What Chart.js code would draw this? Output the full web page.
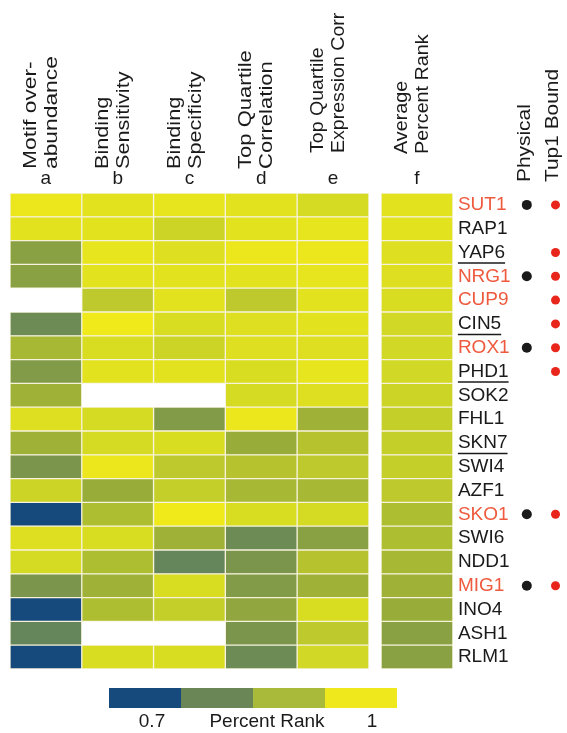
<!DOCTYPE html>
<html>
<head>
<meta charset="utf-8">
<script src="https://cdn.jsdelivr.net/npm/chart.js@4.4.0/dist/chart.umd.min.js"></script>
<style>
  html, body { margin: 0; padding: 0; background: #fff; }
  #wrap { width: 567px; height: 733px; }
</style>
</head>
<body>
<div id="wrap"><canvas id="heatChart"></canvas></div>
<script>
// rows (top to bottom)
const genes = ['SUT1', 'RAP1', 'YAP6', 'NRG1', 'CUP9', 'CIN5', 'ROX1', 'PHD1', 'SOK2', 'FHL1',
               'SKN7', 'SWI4', 'AZF1', 'SKO1', 'SWI6', 'NDD1', 'MIG1', 'INO4', 'ASH1', 'RLM1'];

// percent rank per column (null = no data)
const colA = [0.99, 0.97, 0.83, 0.83, null, 0.79, 0.87, 0.82, 0.86, 0.96, 0.86, 0.81, 0.92, 0.70, 0.96, 0.94, 0.81, 0.70, 0.78, 0.70];
const colB = [0.97, 0.97, 0.98, 0.97, 0.90, 1.00, 0.95, 0.97, null, 0.94, 0.94, 0.99, 0.85, 0.88, 0.95, 0.88, 0.86, 0.88, null, 0.95];
const colC = [0.98, 0.92, 0.96, 0.97, 0.97, 0.95, 0.92, 0.97, null, 0.82, 0.95, 0.90, 0.91, 1.00, 0.86, 0.78, 0.95, 0.91, null, 0.95];
const colD = [0.97, 0.97, 0.99, 0.97, 0.90, 0.96, 0.96, 0.95, 0.94, 0.99, 0.85, 0.89, 0.87, 0.95, 0.79, 0.81, 0.82, 0.84, 0.81, 0.79];
const colE = [0.94, 0.98, 0.99, 0.98, 0.97, 0.97, 0.96, 0.98, 0.96, 0.86, 0.89, 0.90, 0.87, 0.94, 0.83, 0.89, 0.86, 0.95, 0.90, 0.93];
const colF = [0.97, 0.97, 0.96, 0.96, 0.95, 0.93, 0.93, 0.93, 0.92, 0.91, 0.91, 0.91, 0.90, 0.88, 0.88, 0.87, 0.86, 0.85, 0.83, 0.83];

const columnLetters = ['a', 'b', 'c', 'd', 'e', 'f'];
const columnHeaders = [
  ['Motif over-', 'abundance'],
  ['Binding', 'Sensitivity'],
  ['Binding', 'Specificity'],
  ['Top Quartile', 'Correlation'],
  ['Top Quartile', 'Expression Corr'],
  ['Average', 'Percent Rank']
];

// annotations
const redGenes = ['SUT1', 'NRG1', 'CUP9', 'ROX1', 'SKO1', 'MIG1'];
const underlinedGenes = ['YAP6', 'CIN5', 'PHD1', 'SKN7'];
const physicalGenes = ['SUT1', 'NRG1', 'ROX1', 'SKO1', 'MIG1'];
const tup1Genes = ['SUT1', 'YAP6', 'NRG1', 'CUP9', 'CIN5', 'ROX1', 'PHD1', 'SKO1', 'MIG1'];

// colour bar
const legendColors = ['#174a7c', '#6a8656', '#a9b93a', '#eee81c'];
const legendMin = '0.7', legendMax = '1', legendTitle = 'Percent Rank';

// x positions (in column units) of the columns, gene labels and dot columns
const colStarts = [0, 1, 2, 3, 4, 5.17];
const labelX = 6.24;
const physicalX = 7.2, tup1X = 7.6;

const RED_TEXT = '#ee5a3e';
const INK = '#1a1a1a';
const FONT = 'Arial, "Liberation Sans", sans-serif';

function rankColor(v) {
  if (v < 0.75) return '#174a7c';
  const stops = [[0.78, 101, 133, 90], [0.85, 152, 172, 58], [0.92, 204, 213, 38], [1.0, 240, 234, 26]];
  if (v <= stops[0][0]) return 'rgb(101,133,90)';
  for (let i = 1; i < stops.length; i++) {
    if (v <= stops[i][0]) {
      const a = stops[i - 1], b = stops[i];
      const t = (v - a[0]) / (b[0] - a[0]);
      const c = [1, 2, 3].map(k => Math.round(a[k] + (b[k] - a[k]) * t));
      return 'rgb(' + c.join(',') + ')';
    }
  }
  return 'rgb(240,234,26)';
}

const allCols = [colA, colB, colC, colD, colE, colF];
const barSets = allCols.map((col, j) => ({
  type: 'bar',
  indexAxis: 'y',
  grouped: false,
  data: col.map(v => v === null ? null : [colStarts[j], colStarts[j] + 1]),
  backgroundColor: col.map(v => v === null ? 'rgba(0,0,0,0)' : rankColor(v)),
  borderColor: '#f7f2dc',
  borderWidth: 1,
  borderSkipped: false,
  barPercentage: 1,
  categoryPercentage: 1,
  order: 2
}));

const dotSets = [
  {
    type: 'scatter',
    indexAxis: 'x',
    data: physicalGenes.map(g => ({ x: physicalX, y: g })),
    backgroundColor: INK,
    borderWidth: 0,
    pointRadius: 5,
    showLine: false,
    order: 1
  },
  {
    type: 'scatter',
    indexAxis: 'x',
    data: tup1Genes.map(g => ({ x: tup1X, y: g })),
    backgroundColor: '#e8261c',
    borderWidth: 0,
    pointRadius: 4.5,
    showLine: false,
    order: 1
  }
];

const decorPlugin = {
  id: 'decor',
  afterDraw(chart) {
    const ctx = chart.ctx;
    const xs = chart.scales.x, ys = chart.scales.y;
    ctx.save();
    ctx.font = '19px ' + FONT;
    ctx.textBaseline = 'middle';
    ctx.textAlign = 'left';

    // rotated column headers (stretched a little along the text, like the original)
    ctx.fillStyle = INK;
    const drawUp = (text, x, yBottom, stretch) => {
      ctx.save();
      ctx.translate(x, yBottom);
      ctx.rotate(-Math.PI / 2);
      ctx.scale(stretch, 1);
      ctx.fillText(text, 0, 0);
      ctx.restore();
    };
    const headBottoms = [169, 169, 169, 169, 153, 154];
    const headStretch = [1.2, 1.14, 1.14, 1.16, 1.03, 1.04];
    columnHeaders.forEach((lines, j) => {
      const cx = xs.getPixelForValue(colStarts[j] + 0.5);
      drawUp(lines[0], cx - 15, headBottoms[j], headStretch[j]);
      drawUp(lines[1], cx + 6, headBottoms[j], headStretch[j]);
    });
    drawUp('Physical', xs.getPixelForValue(physicalX) - 2, 182, 1.1);
    drawUp('Tup1 Bound', xs.getPixelForValue(tup1X) - 3, 182, 1.1);

    // gene names, with underlines for some
    const x0 = xs.getPixelForValue(labelX);
    ctx.strokeStyle = INK;
    ctx.lineWidth = 1.5;
    genes.forEach((g, i) => {
      const y = ys.getPixelForValue(i);
      ctx.fillStyle = redGenes.includes(g) ? RED_TEXT : INK;
      ctx.fillText(g, x0, y);
      if (underlinedGenes.includes(g)) {
        const w = ctx.measureText(g).width;
        ctx.beginPath();
        ctx.moveTo(x0, y + 10.5);
        ctx.lineTo(x0 + w, y + 10.5);
        ctx.stroke();
      }
    });

    // colour bar
    const bx = 109, by = 688, bw = 288, bh = 20;
    const seg = bw / legendColors.length;
    legendColors.forEach((c, i) => {
      ctx.fillStyle = c;
      ctx.fillRect(bx + i * seg, by, seg, bh);
    });
    ctx.fillStyle = INK;
    ctx.textAlign = 'center';
    ctx.fillText(legendMin, 152, 722);
    ctx.fillText(legendTitle, 267, 722);
    ctx.fillText(legendMax, 372, 722);
    ctx.restore();
  }
};

new Chart(document.getElementById('heatChart'), {
  type: 'bar',
  data: {
    labels: genes,
    datasets: [...barSets, ...dotSets]
  },
  options: {
    indexAxis: 'y',
    responsive: true,
    maintainAspectRatio: false,
    animation: false,
    layout: { autoPadding: false, padding: { left: 10, right: 0, top: 0, bottom: 64 } },
    plugins: { legend: { display: false }, tooltip: { enabled: false } },
    scales: {
      x: {
        type: 'linear',
        position: 'top',
        min: 0,
        max: 7.76,
        grid: { display: false, drawTicks: false },
        border: { display: false },
        afterBuildTicks: scale => {
          scale.ticks = colStarts.map(s => ({ value: s + 0.5 }));
        },
        afterFit: scale => {
          scale.height = 193;
          scale.paddingLeft = 0;
          scale.paddingRight = 0;
        },
        ticks: {
          autoSkip: false,
          maxRotation: 0,
          padding: 3,
          color: INK,
          font: { size: 19, family: FONT },
          callback: (v, i) => columnLetters[i]
        }
      },
      y: {
        type: 'category',
        labels: genes,
        display: false
      }
    }
  },
  plugins: [decorPlugin]
});
</script>
</body>
</html>
